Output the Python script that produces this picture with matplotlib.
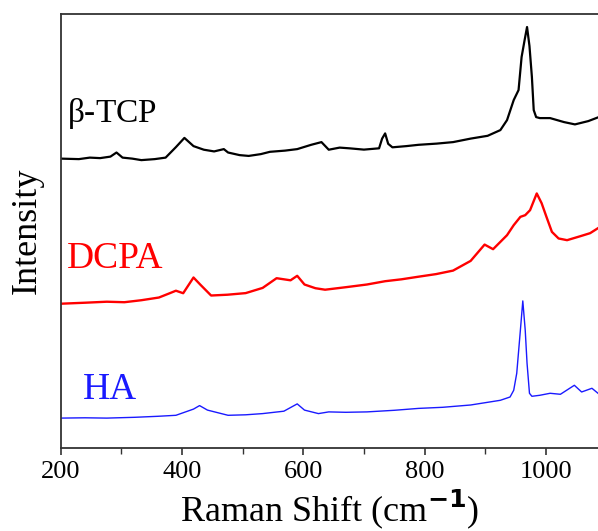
import numpy as np
import matplotlib
matplotlib.use('Agg')
import matplotlib.pyplot as plt

plt.rcParams['font.family'] = ['Liberation Serif', 'DejaVu Serif']
plt.rcParams['mathtext.fontset'] = 'custom'
plt.rcParams['mathtext.rm'] = 'Liberation Serif'

# Raman shift (cm-1) / intensity (a.u., offset stacked)
x_tcp = [200, 230, 248, 265, 282, 292, 302, 318, 333, 355, 373, 390, 404, 419, 436,
         453, 469, 476, 495, 510, 530, 545, 570, 590, 613, 630, 642, 660, 676, 700,
         725, 730, 735, 740, 747, 770, 790, 820, 847, 876, 904, 925, 936, 947, 955,
         960, 965, 969, 973, 977, 980, 984, 990, 1007, 1030, 1048, 1070, 1086]
y_tcp = [289.5, 289, 290.5, 290, 291.5, 295.6, 290.5, 289.5, 288, 289, 290.5, 301,
         310.2, 302, 298.4, 296.7, 299, 295.6, 293, 292.2, 294, 296.3, 297.5, 299,
         303.3, 306, 298.4, 300.5, 299.8, 298.5, 299.8, 309.5, 314.7, 304.3, 300.8,
         302, 303.3, 304.5, 306, 309.5, 312.3, 318, 328, 348, 358, 391, 408, 421,
         402, 371, 338, 331, 330, 330, 326, 323.7, 327, 330.7]

x_dcpa = [200, 240, 276, 305, 333, 362, 379, 390, 402, 419, 430, 448, 475, 505, 533,
          556, 579, 590, 602, 620, 636, 670, 705, 735, 762, 790, 819, 847, 876, 899,
          913, 936, 947, 958, 966, 974, 985, 993, 1001, 1010, 1021, 1035, 1057, 1073,
          1086]
y_dcpa = [144.5, 145.5, 146.5, 146, 148, 150.7, 154.8, 157.5, 155, 170.7, 163.7,
          152.7, 153.5, 155.1, 160.3, 170, 167.9, 172.4, 163.7, 160, 158.5, 161,
          163.7, 167, 168.9, 171.5, 174.1, 177.6, 187.3, 203.6, 199, 213, 223, 231.3,
          233, 238, 254.7, 245, 231.3, 216.3, 209.7, 208, 212, 215, 220]

x_ha = [200, 240, 276, 322, 360, 390, 419, 429, 442, 476, 505, 533, 568, 590, 602,
        625, 642, 670, 705, 750, 790, 830, 876, 925, 941, 947, 952, 958, 962, 966,
        969, 973, 977, 990, 1007, 1024, 1047, 1059, 1076, 1086]
y_ha = [30.2, 30.5, 30.2, 31, 32, 33, 39.2, 42.7, 38.2, 33, 33.5, 34.7, 37.1, 44.4,
        38.2, 34.7, 36.4, 36, 36.4, 38, 39.9, 41, 43.3, 48, 51.3, 58, 75, 118, 147.3,
        118, 85, 55, 52, 53, 55, 54, 63, 56.3, 60, 55]

fig = plt.figure(figsize=(5.98, 5.31), dpi=100)
ax = fig.add_axes([0.1015, 0.1557, 0.8985, 0.8179])

ax.plot(x_tcp, y_tcp, color='black', lw=1.6)
ax.plot(x_dcpa, y_dcpa, color='#ff0000', lw=1.7)
ax.plot(x_ha, y_ha, color='#1a1aff', lw=1.0)

ax.text(211, 326.5, r'$\mathrm{\beta}$-TCP', fontsize=24, color='black', va='baseline')
ax.text(210, 180, 'DCPA', fontsize=27, color='#ff0000', va='baseline')
ax.text(236, 49, 'HA', fontsize=27, color='#1a1aff', va='baseline')

ax.set_xlim(200, 1086)
ax.set_ylim(0, 434)
ax.set_xticks([200, 400, 600, 800, 1000])
ax.set_xticks(np.arange(300, 1086, 200), minor=True)
ax.set_yticks([])
ax.tick_params(axis='x', which='major', direction='out', length=5, width=1.2,
               labelsize=19, pad=4, color='#333333')
ax.tick_params(axis='x', which='minor', direction='out', length=4, width=1.0,
               color='#333333')
for s in ['left', 'bottom', 'top']:
    ax.spines[s].set_linewidth(1.3)
    ax.spines[s].set_color('#333333')
ax.spines['right'].set_visible(False)

ax.set_xlabel(r'Raman Shift (cm$^{\mathbf{-1}}$)', fontsize=26, labelpad=3)
ax.set_ylabel('Intensity', fontsize=26, labelpad=12)

fig.savefig('out.png', dpi=100)
